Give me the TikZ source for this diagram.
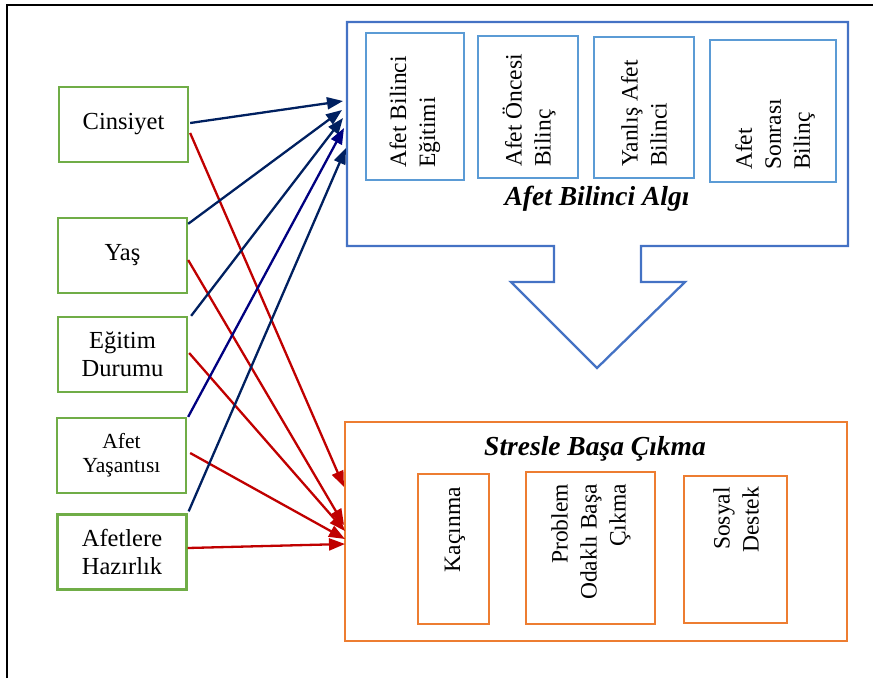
\documentclass[tikz,border=0pt]{standalone}
\usepackage{fontspec}
\setmainfont{Liberation Serif}
\usetikzlibrary{arrows.meta}
\definecolor{navyA}{HTML}{002060}
\definecolor{navyB}{HTML}{000080}
\definecolor{redA}{HTML}{C00000}
\definecolor{greenB}{HTML}{70AD47}
\definecolor{blueO}{HTML}{4472C4}
\definecolor{blueI}{HTML}{5B9BD5}
\definecolor{orangeB}{HTML}{ED7D31}
\begin{document}
\begin{tikzpicture}[x=1pt,y=-1pt,
  greenbox/.style={draw=greenB,line width=2.3pt,minimum width=129pt,minimum height=75pt,inner sep=0pt,align=center,font=\fontsize{24.5}{28}\selectfont},
  innerblue/.style={draw=blueI,line width=2.3pt,inner sep=0pt},
  innerorange/.style={draw=orangeB,line width=2.3pt,inner sep=0pt},
  vtext/.style={rotate=90,inner sep=0pt,font=\fontsize{23.5}{29}\selectfont},
  title/.style={inner sep=0pt,font=\fontsize{27.5}{32}\selectfont\bfseries\itshape},
  bluearrow/.style={draw=navyA,line width=2.3pt,-{Triangle[length=16pt,width=12pt]}},
  redarrow/.style={draw=redA,line width=2.3pt,-{Triangle[length=16pt,width=12pt]}}]
\useasboundingbox (0,0) rectangle (873,678);
% frame
\draw[line width=2.5pt] (7,678) -- (7,5) -- (873,5);
% left boxes
\node[greenbox] (cins) at (123.5,124.5) {Cinsiyet};
\node[greenbox] (yas) at (122.5,255.5) {Yaş};
\node[greenbox] (egit) at (122.5,354.5) {Eğitim\\Durumu};
\node[greenbox,font=\fontsize{21.5}{24}\selectfont] (yasanti) at (121.5,455.5) {Afet\\Yaşantısı};
\node[greenbox] (hazir) at (122,552) {Afetlere\\Hazırlık};
% blue block
\draw[blueO,line width=2.3pt,line join=miter] (347,22) -- (848,22) -- (848,246) -- (641,246) -- (641,282) -- (685,282) -- (597,368) -- (511,282) -- (554,282) -- (554,246) -- (347,246) -- cycle;
\node[innerblue,minimum width=98pt,minimum height=147pt] (b1) at (415,106.5) {};
\node[innerblue,minimum width=100pt,minimum height=142pt] (b2) at (528,107) {};
\node[innerblue,minimum width=100pt,minimum height=141pt] (b3) at (644,107.5) {};
\node[innerblue,minimum width=126pt,minimum height=142pt] (b4) at (773,111) {};
\node[vtext,anchor=west,align=left] (t1) at (415,168) {Afet Bilinci\\Eğitimi};
\node[vtext,anchor=west,align=left] (t2) at (529,167) {Afet Öncesi\\Bilinç};
\node[vtext,anchor=west,align=left] (t3) at (644,167) {Yanlış Afet\\Bilinci};
\node[vtext,anchor=west,align=left] (t4) at (775,170) {Afet\\Sonrası\\Bilinç};
\node[title] (algi) at (597,199) {Afet Bilinci Algı};
% orange block
\draw[orangeB,line width=2.3pt] (345,422) rectangle (847,641);
\node[title] (stres) at (595,449) {Stresle Başa Çıkma};
\node[innerorange,minimum width=71pt,minimum height=150pt] (o1) at (453.5,549) {};
\node[innerorange,minimum width=129pt,minimum height=152pt] (o2) at (590.5,548) {};
\node[innerorange,minimum width=103pt,minimum height=147pt] (o3) at (735.5,549.5) {};
\node[vtext,anchor=east,align=right] (k1) at (455,487) {Kaçınma};
\node[vtext,anchor=east,align=right] (k2) at (591,484) {Problem\\Odaklı Başa\\Çıkma};
\node[vtext,anchor=east,align=right] (k3) at (736,487) {Sosyal\\Destek};
% arrow tips
\coordinate (ta1) at (343,101);
\coordinate (ta2) at (342,110);
\coordinate (ta3) at (343,118);
\coordinate (ta4) at (344,128);
\coordinate (ta5) at (346,148);
\coordinate (tb1) at (344,487);
\coordinate (tb2) at (344,525);
\coordinate (tb3) at (345,531);
\coordinate (tb4) at (345,539);
\coordinate (tb5) at (345,544);
% red arrows
\draw[redarrow] ([shift={(1,8.5)}]cins.east) -- (tb1);
\draw[redarrow] ([shift={(0,4.5)}]yas.east) -- (tb2);
\draw[redarrow] ([shift={(1,-1.5)}]egit.east) -- (tb3);
\draw[redarrow] ([shift={(3,-2.5)}]yasanti.east) -- (tb4);
\draw[redarrow] ([shift={(0,-4)}]hazir.east) -- (tb5);
% blue arrows
\draw[bluearrow] ([shift={(1,-1.5)}]cins.east) -- (ta1);
\draw[bluearrow] ([shift={(0,7)}]yas.north east) -- (ta2);
\draw[bluearrow] ([shift={(3,0)}]egit.north east) -- (ta3);
\draw[bluearrow,draw=navyB] ([shift={(1,0)}]yasanti.north east) -- (ta4);
\draw[bluearrow] ([shift={(1,-2)}]hazir.north east) -- (ta5);
\end{tikzpicture}
\end{document}
